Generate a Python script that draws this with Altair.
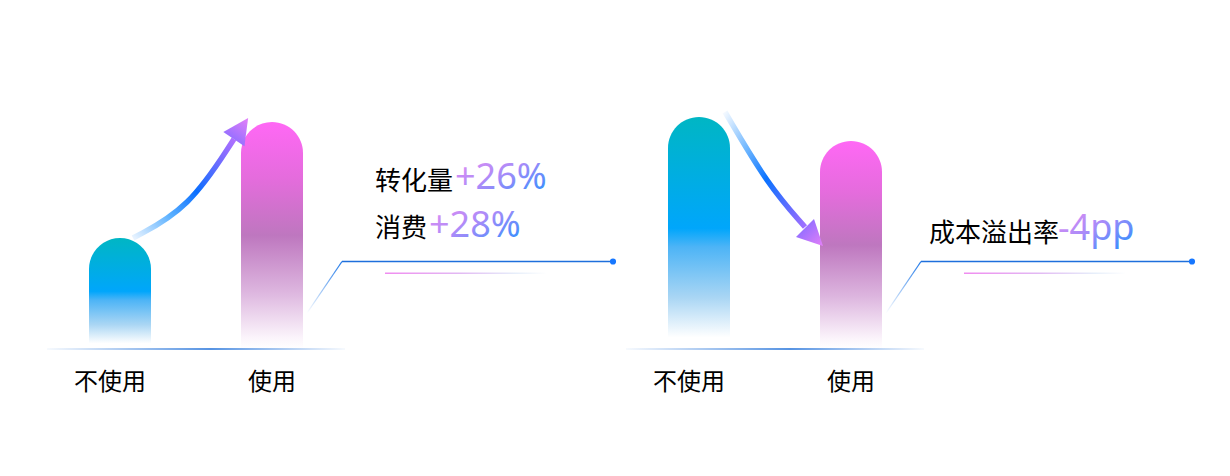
import altair as alt
import pandas as pd

# ---------------- data ----------------
categories = ['不使用', '使用']
conv_values = [111, 227]   # panel 1 (转化 / 消费)
cost_values = [232, 208]   # panel 2 (成本溢出率)

p1_labels = ['转化量', '消费']
p1_changes = ['+26%', '+28%']
p2_labels = ['成本溢出率']
p2_changes = ['-4pp']

# ---------------- annotation geometry (panel-local px for x, value units for y) ----------------
PANEL_W = [612, 580]
H = 341
PANEL_SHIFT = [0, 33]
p1_label_x = [367, 367]
p1_label_y = [159, 111.6]
p1_change_x = [447, 421]
p1_change_y = [160, 112]
p2_label_x = [342]
p2_label_y = [106.6]
p2_change_x = [471]
p2_change_y = [109]

# arrow control points (B-spline)
arrow1_x = [125, 180.75, 226]
arrow1_y = [111, 140.25, 210]
arrow1_head = [233, 220.5, 34]
arrow2_x = [138, 181, 218]
arrow2_y = [237, 163.75, 122]
arrow2_head = [227, 112, 135]

diag_x = [299, 334]
diag_y = [36, 87.5]
hline_x = [334, 605]
hline_y = 87.5
short_x = [377, 539]
short_y = 75.7
base_x = [39, 337]
bar_pos = [112, 264]
cat_label_y = -41
cat_label_dx = [-10, 0]

CJK = 'Noto Sans CJK SC'
LATIN = 'Noto Sans'


def grad(stops, x1=0, y1=0, x2=0, y2=1):
    return {
        'gradient': 'linear', 'x1': x1, 'y1': y1, 'x2': x2, 'y2': y2,
        'stops': [{'offset': o, 'color': c} for o, c in stops],
    }


G_TEAL = grad([(0, '#00B6C4'), (0.48, '#00A6FB'), (0.56, '#4DB4F6'),
               (0.78, '#AAD6F4'), (0.95, '#FFFFFF'), (1, '#FFFFFF')])
G_PINK = grad([(0, '#FF68F5'), (0.25, '#E46CDC'), (0.5, '#BE77BF'),
               (0.75, '#DDB6DF'), (0.95, '#FBF4FB'), (1, '#FFFFFF')])
G_TEXT = grad([(0, '#F28EF0'), (0.5, '#A78BF9'), (1, '#1A8FFF')], 0, 0, 1, 1)
G_ARROW_UP = grad([(0, '#EAF4FF'), (0.3, '#5AB0FF'), (0.55, '#0A6EFF'),
                   (0.85, '#7F6CFF'), (1, '#B070FF')], 0, 1, 1, 0)
G_ARROW_DOWN = grad([(0, '#F4F9FF'), (0.3, '#6DB6FF'), (0.55, '#0A72FF'),
                     (0.85, '#6E6CFF'), (1, '#A070FF')], 0, 0, 1, 1)
G_HEAD = grad([(0, '#E480F8'), (1, '#9A70FF')], 0, 0, 0, 1)
G_DIAG = grad([(0, '#FFFFFF'), (1, '#1F78E8')], 0, 1, 1, 0)
G_SHORT = grad([(0, '#F08CF0'), (0.45, '#E2B8F3'), (0.8, '#E6EEFA'), (1, '#FFFFFF')], 0, 0, 1, 0)
G_BASE = grad([(0, '#F4F8FD'), (0.55, '#1E6FD9'), (1, '#F4F8FD')], 0, 0, 1, 0)

yscale = alt.Scale(domain=[0, H], nice=False, zero=True)


def panel(values, labels, lx, ly, changes, cx, cy, ax, ay, head, arrow_grad, off, W):
    def xq(f='x'):
        return alt.X(f'{f}:Q', scale=alt.Scale(domain=[off, off + W], nice=False, zero=False), axis=None)

    def yq(f='y'):
        return alt.Y(f'{f}:Q', scale=yscale, axis=None)

    def xcat():
        return alt.X('cat:N', sort=categories,
                     scale=alt.Scale(type='point', domain=categories,
                                     range=[bar_pos[0] - off, bar_pos[1] - off], padding=0),
                     axis=None)

    bars_df = pd.DataFrame({'cat': categories, 'v': values})
    bars = alt.Chart(bars_df).mark_bar(
        size=62, cornerRadiusTopLeft=31, cornerRadiusTopRight=31
    ).encode(
        x=xcat(),
        y=alt.Y('v:Q', scale=yscale, axis=None),
        color=alt.condition("datum.cat === '不使用'", alt.value(G_TEAL), alt.value(G_PINK)),
    )

    cat_layers = []
    for cat, dx in zip(categories, cat_label_dx):
        cat_layers.append(
            alt.Chart(pd.DataFrame({'cat': [cat], 'y': [cat_label_y]})).mark_text(
                align='center', baseline='alphabetic', font=CJK, fontSize=24,
                color='#000000', dx=dx
            ).encode(x=xcat(), y=yq(), text='cat:N')
        )

    base = alt.Chart(pd.DataFrame({'x': [base_x[0]], 'x2': [base_x[1]], 'y': [0.75], 'y2': [-0.75]})).mark_rect(
        color=G_BASE).encode(x=xq(), x2='x2:Q', y=yq(), y2='y2:Q')

    arrow_df = pd.DataFrame({'x': ax, 'y': ay, 'i': list(range(len(ax)))})
    arrow = alt.Chart(arrow_df).mark_line(
        strokeWidth=5.5, interpolate='basis', color=arrow_grad, strokeCap='butt'
    ).encode(x=xq(), y=yq(), order='i:Q')

    head_df = pd.DataFrame({'x': [head[0]], 'y': [head[1]]})
    arrow_head = alt.Chart(head_df).mark_point(
        shape='M0,-1L1,1L-1,1Z', size=650, filled=True, angle=head[2],
        color=G_HEAD, opacity=1, strokeWidth=0
    ).encode(x=xq(), y=yq())

    diag = alt.Chart(pd.DataFrame({'x': diag_x, 'y': diag_y})).mark_line(
        strokeWidth=1.3, color=G_DIAG).encode(x=xq(), y=yq())
    hline = alt.Chart(pd.DataFrame({'x': [hline_x[0]], 'x2': [hline_x[1]], 'y': [hline_y]})).mark_rule(
        color='#1E6FDC', strokeWidth=1.3).encode(x=xq(), x2='x2:Q', y=yq())
    dot = alt.Chart(pd.DataFrame({'x': [hline_x[1]], 'y': [hline_y]})).mark_circle(
        size=38, color='#1677FF', opacity=1).encode(x=xq(), y=yq())
    short = alt.Chart(pd.DataFrame({'x': [short_x[0]], 'x2': [short_x[1]],
                                    'y': [short_y + 0.75], 'y2': [short_y - 0.75]})).mark_rect(
        color=G_SHORT).encode(x=xq(), x2='x2:Q', y=yq(), y2='y2:Q')

    lab = alt.Chart(pd.DataFrame({'x': lx, 'y': ly, 't': labels})).mark_text(
        align='left', baseline='alphabetic', font=CJK, fontSize=26, color='#000000'
    ).encode(x=xq(), y=yq(), text='t:N')
    chg = alt.Chart(pd.DataFrame({'x': cx, 'y': cy, 't': changes})).mark_text(
        align='left', baseline='alphabetic', font=LATIN, fontSize=36, color=G_TEXT
    ).encode(x=xq(), y=yq(), text='t:N')

    return alt.layer(bars, base, arrow, arrow_head, diag, hline, dot, short, lab, chg,
                     *cat_layers).resolve_scale(x='independent').properties(width=W, height=H)


p1 = panel(conv_values, p1_labels, p1_label_x, p1_label_y, p1_changes, p1_change_x, p1_change_y,
           arrow1_x, arrow1_y, arrow1_head, G_ARROW_UP, PANEL_SHIFT[0], PANEL_W[0])
p2 = panel(cost_values, p2_labels, p2_label_x, p2_label_y, p2_changes, p2_change_x, p2_change_y,
           arrow2_x, arrow2_y, arrow2_head, G_ARROW_DOWN, PANEL_SHIFT[1], PANEL_W[1])

chart = alt.hconcat(
    p1, p2, spacing=0,
    padding={'left': 0, 'top': 0, 'right': 0, 'bottom': 16},
).configure_view(stroke=None)

chart.save('out.html', embed_options={'renderer': 'svg', 'actions': False})
